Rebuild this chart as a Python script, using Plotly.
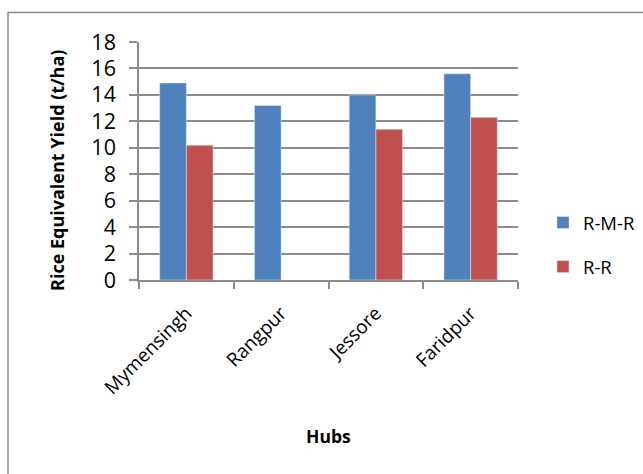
import plotly.graph_objects as go

# Rice equivalent yield by hub for two cropping patterns
hubs = ["Mymensingh", "Rangpur", "Jessore", "Faridpur"]
rmr_yield = [14.9, 13.2, 14.0, 15.6]
rr_yield = [10.2, None, 11.4, 12.3]
y_ticks = [0, 2, 4, 6, 8, 10, 12, 14, 16, 18]

BLUE = "#4F81BD"
RED = "#C0504D"
GRID = "#8C8C8C"
FONT = "Open Sans"

W, H = 643, 474
L, R, T, B = 139, 125, 42, 194
PW, PH = W - L - R, H - T - B


def px_x(p):
    return (p - L) / PW


def px_y(p):
    return 1 - (p - T) / PH


fig = go.Figure()
fig.add_trace(go.Bar(x=hubs, y=rmr_yield, name="R-M-R", marker_color=BLUE,
                     legendgroup="a"))
fig.add_trace(go.Bar(x=hubs, y=rr_yield, name="R-R", marker_color=RED,
                     legendgroup="b"))

fig.update_layout(
    width=W, height=H,
    margin=dict(l=L, r=R, t=T, b=B, pad=0, autoexpand=False),
    paper_bgcolor="white", plot_bgcolor="white",
    barmode="group", bargap=0.437, bargroupgap=0,
    font=dict(family=FONT, color="black"),
    showlegend=True,
    legend=dict(
        xref="container", yref="container",
        x=543 / W, y=1 - 204 / H, xanchor="left", yanchor="top",
        font=dict(size=18.5, family=FONT),
        tracegroupgap=17, bgcolor="rgba(0,0,0,0)",
    ),
)

fig.update_xaxes(
    type="category", automargin=False,
    showline=True, linecolor=GRID, linewidth=1.5,
    ticks="outside", tickson="boundaries", ticklen=7, tickcolor=GRID, tickwidth=1.5,
    tickangle=-45, tickfont=dict(size=19, family=FONT),
    ticklabelstandoff=13,
    showgrid=False,
)
fig.update_yaxes(
    range=[0, 18], tickvals=y_ticks, automargin=False,
    showline=True, linecolor=GRID, linewidth=1.5,
    ticks="outside", ticklen=8, tickcolor=GRID, tickwidth=1.5,
    tickfont=dict(size=21.5, family=FONT),
    ticklabelstandoff=9,
    showgrid=True, gridcolor=GRID, gridwidth=1.5,
    zeroline=False,
)

# axis titles
fig.add_annotation(
    text="<b>Rice Equivalent Yield (t/ha)</b>", textangle=-90,
    xref="paper", yref="paper", x=px_x(57), y=px_y(171),
    xanchor="center", yanchor="middle", showarrow=False,
    font=dict(size=18, family=FONT, color="black"),
)
fig.add_annotation(
    text="<b>Hubs</b>",
    xref="paper", yref="paper", x=0.5, y=px_y(436),
    xanchor="center", yanchor="middle", showarrow=False,
    font=dict(size=17.5, family=FONT, color="black"),
)

# chart frame
fig.add_shape(
    type="rect", xref="paper", yref="paper",
    x0=px_x(8), x1=px_x(700), y0=px_y(12.5), y1=px_y(520),
    line=dict(color=GRID, width=1.5), fillcolor="rgba(0,0,0,0)", layer="below",
)

fig.write_html("out.html")
